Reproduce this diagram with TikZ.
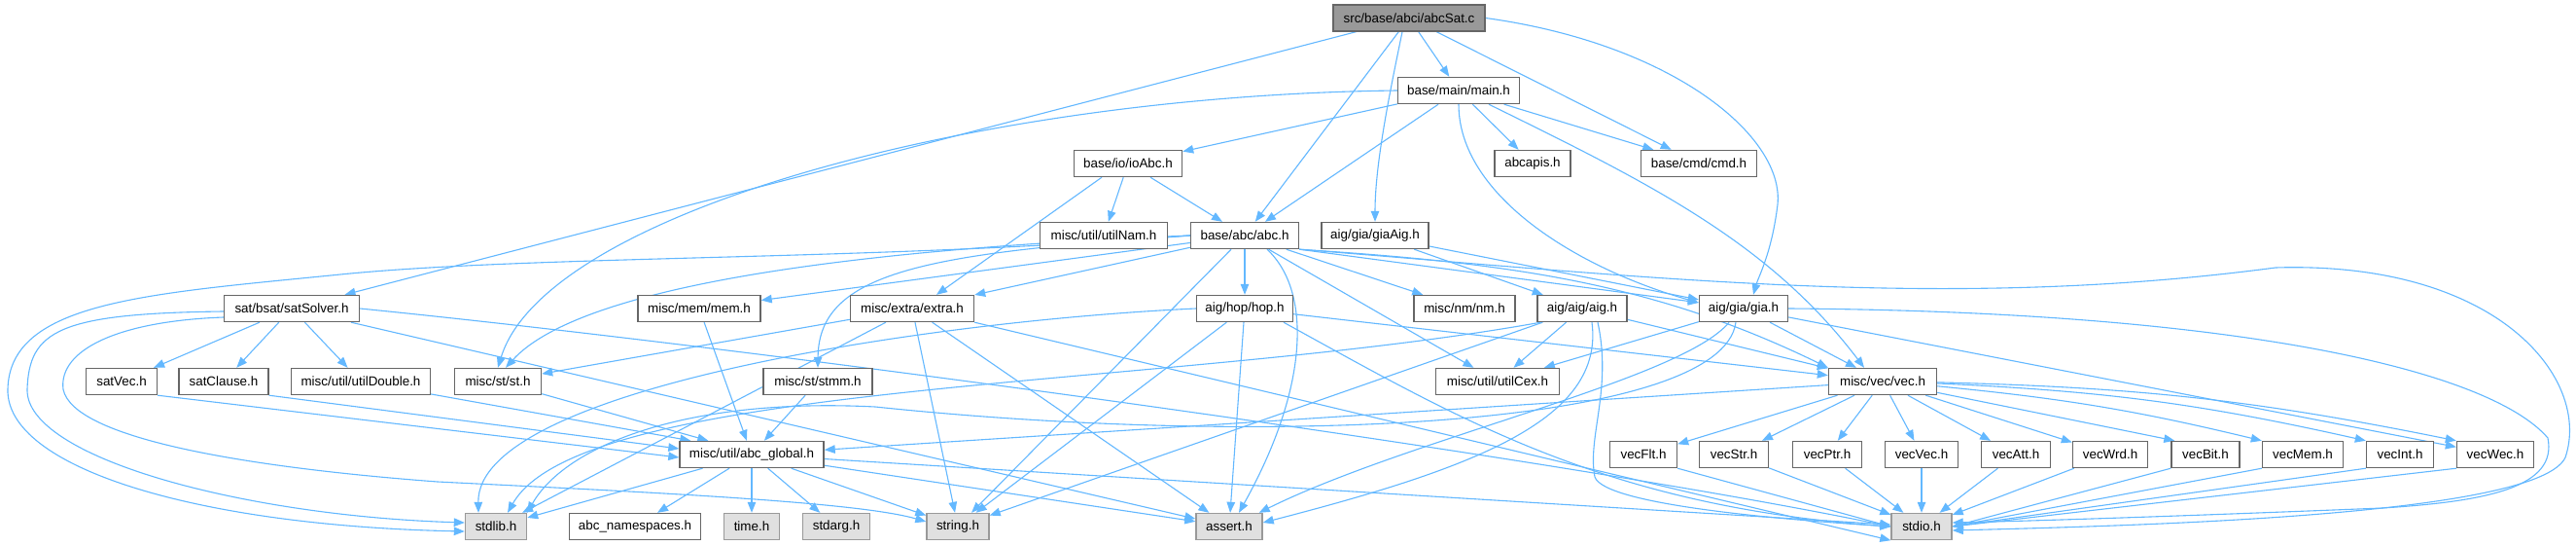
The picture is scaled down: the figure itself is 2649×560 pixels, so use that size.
\documentclass[tikz,border=0pt]{standalone}
\usepackage{fontspec}
\setmainfont{Liberation Sans}
\usetikzlibrary{arrows.meta,calc}
\pgfdeclarelayer{bg}
\pgfsetlayers{bg,main}
\definecolor{edgec}{HTML}{63B8FF}
\definecolor{bord}{HTML}{666666}
\definecolor{sysbord}{HTML}{999999}
\definecolor{sysfill}{HTML}{E0E0E0}
\definecolor{srcfill}{HTML}{999999}
\begin{document}
\begin{tikzpicture}[x=1pt,y=-1pt,
 box/.style={draw=bord,fill=white,line width=1.4pt,minimum height=27pt,inner xsep=3pt,inner ysep=0pt,font=\fontsize{13.4}{16}\selectfont,text=black},
 sys/.style={box,draw=sysbord,fill=sysfill},
 src/.style={box,fill=srcfill},
 conn/.style={draw=edgec,line width=1.1pt,-{Triangle[length=11pt,width=8.5pt]}}]
\useasboundingbox (0,0) rectangle (2649,560);
% nodes
\node[src,minimum width=156pt] (abcSat) at (1449,18.5) {src/base/abci/abcSat.c};
\node[box,minimum width=125pt] (main) at (1500,93) {base/main/main.h};
\node[box,minimum width=111pt] (ioAbc) at (1160,168) {base/io/ioAbc.h};
\node[box,minimum width=78pt] (abcapis) at (1576,168) {abcapis.h};
\node[box,minimum width=119pt] (cmd) at (1747,168) {base/cmd/cmd.h};
\node[box,minimum width=131pt] (utilNam) at (1135,242) {misc/util/utilNam.h};
\node[box,minimum width=111pt] (abc) at (1280,242) {base/abc/abc.h};
\node[box,minimum width=110pt] (giaAig) at (1414,242) {aig/gia/giaAig.h};
\node[box,minimum width=139pt] (satSolver) at (300,317) {sat/bsat/satSolver.h};
\node[box,minimum width=126pt] (mem) at (719,317) {misc/mem/mem.h};
\node[box,minimum width=127pt] (extra) at (938,317) {misc/extra/extra.h};
\node[box,minimum width=99pt] (hop) at (1280,317) {aig/hop/hop.h};
\node[box,minimum width=104pt] (nm) at (1506,317) {misc/nm/nm.h};
\node[box,minimum width=92pt] (aig) at (1627,317) {aig/aig/aig.h};
\node[box,minimum width=91pt] (gia) at (1793,317) {aig/gia/gia.h};
\node[box,minimum width=73pt] (satVec) at (125,392) {satVec.h};
\node[box,minimum width=92pt] (satClause) at (230,392) {satClause.h};
\node[box,minimum width=143pt] (utilDouble) at (371,392) {misc/util/utilDouble.h};
\node[box,minimum width=89pt] (st) at (512,392) {misc/st/st.h};
\node[box,minimum width=112pt] (stmm) at (841,392) {misc/st/stmm.h};
\node[box,minimum width=127pt] (utilCex) at (1540,392) {misc/util/utilCex.h};
\node[box,minimum width=111pt] (vec) at (1936,392) {misc/vec/vec.h};
\node[box,minimum width=148pt] (abcglobal) at (773,467) {misc/util/abc\_global.h};
\node[box,minimum width=69pt] (vecFlt) at (1690,467) {vecFlt.h};
\node[box,minimum width=71pt] (vecStr) at (1783,467) {vecStr.h};
\node[box,minimum width=71pt] (vecPtr) at (1879,467) {vecPtr.h};
\node[box,minimum width=75pt] (vecVec) at (1976,467) {vecVec.h};
\node[box,minimum width=71pt] (vecAtt) at (2073,467) {vecAtt.h};
\node[box,minimum width=77pt] (vecWrd) at (2170,467) {vecWrd.h};
\node[box,minimum width=70pt] (vecBit) at (2268,467) {vecBit.h};
\node[box,minimum width=83pt] (vecMem) at (2368,467) {vecMem.h};
\node[box,minimum width=69pt] (vecInt) at (2468,467) {vecInt.h};
\node[box,minimum width=79pt] (vecWec) at (2566,467) {vecWec.h};
\node[sys,minimum width=63pt] (stdlib) at (510,541) {stdlib.h};
\node[box,minimum width=135pt] (abcns) at (653,541) {abc\_namespaces.h};
\node[sys,minimum width=57pt] (time) at (773,541) {time.h};
\node[sys,minimum width=69pt] (stdarg) at (860,541) {stdarg.h};
\node[sys,minimum width=64pt] (string) at (985,541) {string.h};
\node[sys,minimum width=68pt] (assert) at (1264,541) {assert.h};
\node[sys,minimum width=62pt] (stdio) at (1976,541) {stdio.h};
\begin{pgfonlayer}{bg}
\fill[white] (0,0) rectangle (2649,560);
% abcSat
\draw[conn] (abcSat) -- (satSolver);
\draw[conn] (abcSat) -- (abc);
\draw[conn] ($(abcSat.south)+(-7,0)$) .. controls (1428,100) and (1414,170) .. (giaAig.north);
\draw[conn] (abcSat) -- (main);
\draw[conn] (abcSat) -- (cmd);
\draw[conn] (abcSat.east) .. controls (1720,45) and (1835,140) .. (1828,210) .. controls (1822,260) and (1808,285) .. ($(gia.north)+(10,0)$);
% main
\draw[conn] (main) -- (ioAbc);
\draw[conn] (main.west) .. controls (1000,98) and (560,220) .. (st.north);
\draw[conn] (main) -- (abc);
\draw[conn] (main.south) .. controls (1500,200) and (1620,275) .. ($(gia.west)+(0,-6)$);
\draw[conn] (main) -- (abcapis);
\draw[conn] (main) -- (cmd);
\draw[conn] ($(main.south)+(31,0)$) .. controls (1700,190) and (1820,250) .. ($(vec.north)+(-19,0)$);
% ioAbc
\draw[conn] (ioAbc) -- (utilNam);
\draw[conn] (ioAbc) -- (abc);
\draw[conn] ($(ioAbc.south)+(-27,0)$) -- ($(extra.north)+(25,0)$);
% giaAig
\draw[conn] (giaAig) -- (aig);
\draw[conn] (giaAig) -- (gia);
% abc
\draw[conn] (abc.west) .. controls (900,268) and (550,262) .. (350,282) .. controls (150,302) and (10,310) .. (8,400) .. controls (6,480) and (200,540) .. ($(stdlib.west)+(0,5)$);
\draw[conn] (abc.west) .. controls (900,255) and (600,290) .. ($(st.north)+(8,0)$);
\draw[conn] (abc) -- (mem);
\draw[conn] (abc) -- (extra);
\draw[conn] (abc.west) .. controls (950,260) and (842,280) .. (stmm.north);
\draw[conn] (abc) -- (hop);
\draw[conn] (abc) -- (string);
\draw[conn] ($(abc.south)+(23,0)$) .. controls (1350,300) and (1345,400) .. ($(assert.north)+(10,0)$);
\draw[conn] (abc) -- (nm);
\draw[conn] (abc) -- (utilCex);
\draw[conn] (abc.south east) -- (gia);
\draw[conn] (abc.south east) .. controls (1550,270) and (1700,290) .. (vec.north west);
\draw[conn] (abc.south east) .. controls (1700,285) and (2000,320) .. (2340,275) .. controls (2570,268) and (2665,390) .. (2638,470) .. controls (2610,530) and (2200,540) .. ($(stdio.east)+(0,4)$);
% hop
\draw[conn] (hop.west) .. controls (950,330) and (490,400) .. ($(stdlib.north)+(-18,0)$);
\draw[conn] (hop) -- (string);
\draw[conn] (hop) -- (assert);
\draw[conn] (hop) -- (vec);
\draw[conn] ($(hop.south)+(40,0)$) .. controls (1500,430) and (1650,520) .. (stdio.west);
% extra
\draw[conn] (extra) -- (st);
\draw[conn] (extra) -- (stdlib);
\draw[conn] (extra) -- (string);
\draw[conn] (extra) -- (assert);
\draw[conn] (extra.south east) -- (stdio.south west);
% satSolver
\draw[conn] (satSolver) -- (satVec);
\draw[conn] (satSolver) -- (satClause);
\draw[conn] (satSolver) -- (utilDouble);
\draw[conn] ($(satSolver.west)+(0,3)$) .. controls (60,322) and (30,340) .. (28,400) .. controls (26,470) and (250,530) .. ($(stdlib.west)+(0,-4)$);
\draw[conn] ($(satSolver.west)+(0,9)$) .. controls (120,330) and (60,360) .. (65,400) .. controls (75,450) and (250,480) .. (450,495) .. controls (650,505) and (880,515) .. ($(string.west)+(0,-5)$);
\draw[conn] (satSolver) -- (assert);
\draw[conn] (satSolver.east) .. controls (800,360) and (1600,470) .. (stdio.west);
% into abc_global
\draw[conn] (satVec.south east) -- ($(abcglobal.west)+(0,3)$);
\draw[conn] (satClause.south east) -- ($(abcglobal.west)+(0,-6)$);
\draw[conn] (utilDouble) -- ($(abcglobal.north west)+(12,0)$);
\draw[conn] (st) -- ($(abcglobal.north west)+(30,0)$);
\draw[conn] (mem) -- (abcglobal);
\draw[conn] (stmm) -- (abcglobal);
\draw[conn] (vec) -- (abcglobal);
% abc_global out
\draw[conn] (abcglobal) -- (stdlib);
\draw[conn] (abcglobal) -- (abcns);
\draw[conn] (abcglobal) -- (time);
\draw[conn] (abcglobal) -- (stdarg);
\draw[conn] (abcglobal) -- (string);
\draw[conn] (abcglobal) -- (assert);
\draw[conn] (abcglobal) -- (stdio);
% aig
\draw[conn] (aig) -- (utilCex);
\draw[conn] (aig) -- (vec);
\draw[conn] (aig) -- (string);
\draw[conn] ($(aig.south west)+(4,0)$) .. controls (1200,400) and (600,390) .. ($(stdlib.north)+(12,0)$);
\draw[conn] ($(aig.south)+(10,0)$) .. controls (1650,430) and (1520,480) .. ($(assert.east)+(0,-4)$);
\draw[conn] ($(aig.south)+(16,0)$) .. controls (1658,400) and (1632,450) .. (1640,490) .. controls (1650,520) and (1850,535) .. (stdio.west);
% gia
\draw[conn] (gia) -- (utilCex);
\draw[conn] (gia) -- (vec);
\draw[conn] (gia) -- (vecWec);
\draw[conn] ($(gia.south)+(-8,0)$) .. controls (1770,440) and (1300,460) .. (900,418) .. controls (700,408) and (580,460) .. (stdlib.north east);
\draw[conn] ($(gia.south)+(-15,0)$) .. controls (1730,390) and (1450,450) .. ($(assert.north east)+(-4,0)$);
\draw[conn] (gia.east) .. controls (2300,320) and (2560,380) .. (2620,450) .. controls (2630,500) and (2560,515) .. (2450,522) .. controls (2250,530) and (2100,535) .. ($(stdio.east)+(0,-4)$);
% vec
\draw[conn] (vec) -- (vecFlt);
\draw[conn] (vec) -- (vecStr);
\draw[conn] (vec) -- (vecPtr);
\draw[conn] (vec) -- (vecVec);
\draw[conn] (vec) -- (vecAtt);
\draw[conn] (vec) -- (vecWrd);
\draw[conn] (vec) -- ($(vecBit.north west)+(4,0)$);
\draw[conn] (vec) to[bend left=4] (vecMem.north west);
\draw[conn] (vec) to[bend left=5] (vecInt.north west);
\draw[conn] (vec) to[bend left=5] (vecWec.north west);
% vec headers to stdio
\draw[conn] (vecFlt.south east) -- (stdio.west);
\draw[conn] (vecStr) -- (stdio);
\draw[conn] (vecPtr) -- (stdio);
\draw[conn] (vecVec) -- (stdio);
\draw[conn] (vecAtt) -- (stdio);
\draw[conn] (vecWrd) -- (stdio);
\draw[conn] (vecBit.south west) -- (stdio.east);
\draw[conn] (vecMem.south west) -- (stdio.east);
\draw[conn] (vecInt.south west) -- (stdio.east);
\draw[conn] (vecWec.south west) -- (stdio.east);
\end{pgfonlayer}
\end{tikzpicture}
\end{document}
